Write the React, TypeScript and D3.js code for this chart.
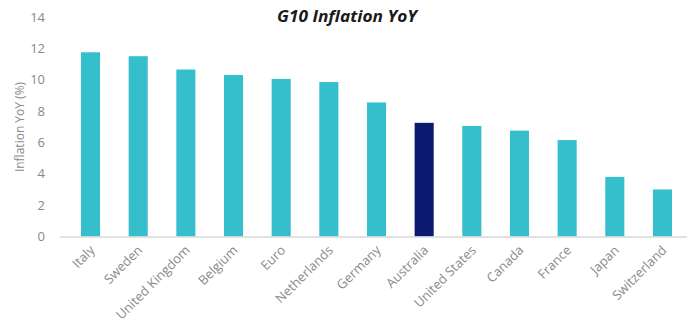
import React from "react";
import * as d3 from "d3";

const categories = ["Italy", "Sweden", "United Kingdom", "Belgium", "Euro", "Netherlands", "Germany", "Australia", "United States", "Canada", "France", "Japan", "Switzerland"];
const values = [11.75, 11.5, 10.65, 10.3, 10.05, 9.85, 8.55, 7.25, 7.05, 6.75, 6.15, 3.8, 3.0];
const highlight = ["Australia"];
const yTicks = [0, 2, 4, 6, 8, 10, 12, 14];

const W = 691, H = 329;
const FONT = "'Open Sans', 'Noto Sans', sans-serif";

export default function App() {
  const x = d3.scaleBand<string>().domain(categories).range([66.7, 686.3]).paddingInner(0.6).paddingOuter(0.3);
  const y = d3.scaleLinear().domain([0, 14]).range([236.5, 17]);
  return (
    <svg width={W} height={H} style={{ position: "absolute", left: 0, top: 0, background: "#fff" }}>
      <text x={347} y={22} textAnchor="middle" fontFamily={FONT} fontWeight="bold" fontStyle="italic" fontSize={16} textLength={140} lengthAdjust="spacingAndGlyphs" fill="#1a1a1a">G10 Inflation YoY</text>
      <text transform={`translate(24,${127}) rotate(-90)`} textAnchor="middle" fontFamily={FONT} fontSize={12} fill="#8a8a8a">Inflation YoY (%)</text>
      {yTicks.map(t => (
        <text key={t} x={45} y={y(t)} dy="0.35em" textAnchor="end" fontFamily={FONT} fontSize={13} fill="#8a8a8a">{t}</text>
      ))}
      {categories.map((c, i) => (
        <rect key={c} x={x(c)} y={y(values[i])} width={x.bandwidth()} height={y(0) - y(values[i])} fill={highlight.includes(c) ? "#0b1a6e" : "#35bfcc"} />
      ))}
      <line x1={60} x2={687} y1={y(0) + 0.5} y2={y(0) + 0.5} stroke="#d9d9d9" strokeWidth={1.5} />
      {categories.map(c => {
        const cx = (x(c) as number) + x.bandwidth() / 2 + 5;
        return (
          <text key={c} transform={`translate(${cx},${251}) rotate(-45)`} textAnchor="end" fontFamily={FONT} fontSize={13} fill="#8a8a8a">{c}</text>
        );
      })}
    </svg>
  );
}
